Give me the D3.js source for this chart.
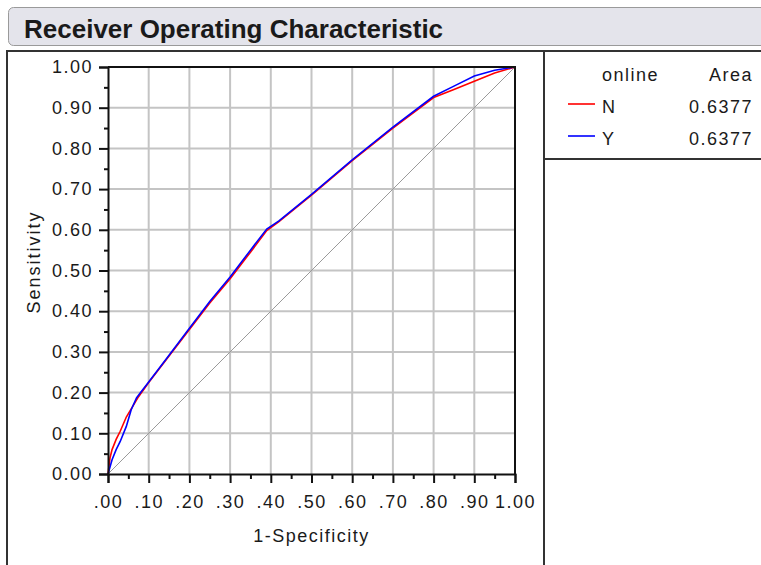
<!DOCTYPE html>
<html>
<head>
<meta charset="utf-8">
<script src="https://cdn.jsdelivr.net/npm/d3@7"></script>
<style>
  body { margin: 0; background: #fff; }
  svg text { font-family: "Liberation Sans", Arial, sans-serif; fill: #1a1a1a; }
</style>
</head>
<body>
<div id="chart"></div>
<script>
// ROC curve points (1-specificity, sensitivity)
const nX = [0, 0.005, 0.01, 0.02, 0.03, 0.045, 0.06, 0.075, 0.1, 0.15, 0.2, 0.25, 0.3, 0.35, 0.39, 0.42, 0.5, 0.6, 0.7, 0.8, 0.85, 0.9, 0.95, 1.0];
const nY = [0, 0.04, 0.06, 0.085, 0.105, 0.14, 0.165, 0.19, 0.225, 0.29, 0.355, 0.42, 0.48, 0.545, 0.598, 0.62, 0.685, 0.77, 0.85, 0.925, 0.945, 0.965, 0.985, 1.0];
const yX = [0, 0.01, 0.02, 0.03, 0.045, 0.057, 0.07, 0.08, 0.1, 0.15, 0.2, 0.25, 0.3, 0.35, 0.39, 0.42, 0.5, 0.6, 0.7, 0.8, 0.85, 0.9, 0.95, 1.0];
const yY = [0, 0.035, 0.06, 0.08, 0.117, 0.158, 0.187, 0.2, 0.226, 0.292, 0.358, 0.424, 0.484, 0.55, 0.602, 0.622, 0.687, 0.772, 0.852, 0.928, 0.953, 0.978, 0.992, 1.0];

const groups = ['N', 'Y'];
const areas = ['0.6377', '0.6377'];
const colors = ['#ff0000', '#0000ff'];
const majorTicks = [0, 0.1, 0.2, 0.3, 0.4, 0.5, 0.6, 0.7, 0.8, 0.9, 1.0];
const minorTicks = [0.05, 0.15, 0.25, 0.35, 0.45, 0.55, 0.65, 0.75, 0.85, 0.95];

const svg = d3.select('#chart').append('svg')
    .attr('width', 761)
    .attr('height', 565);

// title bar
svg.append('rect')
    .attr('x', 8.5).attr('y', 7.5)
    .attr('width', 770).attr('height', 38)
    .attr('rx', 5)
    .attr('fill', '#e4e4eb')
    .attr('stroke', '#9a9a9a');
svg.append('text')
    .attr('x', 24).attr('y', 38)
    .attr('font-size', 26)
    .attr('font-weight', 'bold')
    .attr('fill', '#000')
    .text('Receiver Operating Characteristic');

// outer frame
const frame = svg.append('g').attr('stroke', '#333').attr('stroke-width', 2);
frame.append('line').attr('x1', 7).attr('x2', 761).attr('y1', 51).attr('y2', 51);
frame.append('line').attr('x1', 7).attr('x2', 7).attr('y1', 50).attr('y2', 565);
frame.append('line').attr('x1', 544).attr('x2', 544).attr('y1', 50).attr('y2', 565);
frame.append('line').attr('x1', 544).attr('x2', 761).attr('y1', 159).attr('y2', 159);

const x = d3.scaleLinear().domain([0, 1]).range([108, 515]);
const y = d3.scaleLinear().domain([0, 1]).range([474, 67]);

// grid
const grid = svg.append('g').attr('stroke', '#c4c4c4').attr('stroke-width', 2);
grid.selectAll('.gx').data(majorTicks.slice(1, -1)).enter().append('line')
    .attr('x1', d => x(d)).attr('x2', d => x(d))
    .attr('y1', y(0)).attr('y2', y(1));
grid.selectAll('.gy').data(majorTicks.slice(1, -1)).enter().append('line')
    .attr('x1', x(0)).attr('x2', x(1))
    .attr('y1', d => y(d)).attr('y2', d => y(d));

// reference diagonal
svg.append('line')
    .attr('x1', x(0)).attr('y1', y(0))
    .attr('x2', x(1)).attr('y2', y(1))
    .attr('stroke', '#9a9a9a').attr('stroke-width', 1);

// curves
const line = d3.line().x(d => x(d[0])).y(d => y(d[1]));
const series = [d3.zip(nX, nY), d3.zip(yX, yY)];
series.forEach((s, i) => {
    svg.append('path')
        .datum(s)
        .attr('fill', 'none')
        .attr('stroke', colors[i])
        .attr('stroke-width', 1.6)
        .attr('d', line);
});

// plot border top/right
svg.append('path')
    .attr('d', `M${x(0)},${y(1)}H${x(1)}V${y(0)}`)
    .attr('fill', 'none').attr('stroke', '#111').attr('stroke-width', 2);

// axes
const fmtY = d3.format('.2f');
const fmtX = d => fmtY(d).replace(/^0/, '');

svg.append('g')
    .attr('transform', `translate(${x(0)},0)`)
    .call(d3.axisLeft(y).tickValues(majorTicks).tickFormat(fmtY).tickSize(9).tickPadding(6));
svg.append('g')
    .attr('transform', `translate(${x(0)},0)`)
    .call(d3.axisLeft(y).tickValues(minorTicks).tickFormat('').tickSize(4))
    .select('.domain').remove();

svg.append('g')
    .attr('transform', `translate(0,${y(0)})`)
    .call(d3.axisBottom(x).tickValues(majorTicks).tickFormat(fmtX).tickSize(9).tickPadding(12));
svg.append('g')
    .attr('transform', `translate(0,${y(0)})`)
    .call(d3.axisBottom(x).tickValues(minorTicks).tickFormat('').tickSize(5))
    .select('.domain').remove();

svg.selectAll('.tick line').attr('stroke', '#111').attr('stroke-width', 2);
svg.selectAll('.domain').attr('stroke', '#111').attr('stroke-width', 2);
svg.selectAll('.tick text')
    .attr('font-size', 18)
    .attr('letter-spacing', 1.5)
    .attr('font-family', '"Liberation Sans", Arial, sans-serif')
    .attr('fill', '#1a1a1a');

// axis titles
svg.append('text')
    .attr('x', (x(0) + x(1)) / 2).attr('y', 542)
    .attr('text-anchor', 'middle')
    .attr('font-size', 18).attr('letter-spacing', 1.5)
    .text('1-Specificity');
svg.append('text')
    .attr('transform', 'translate(40,262) rotate(-90)')
    .attr('text-anchor', 'middle')
    .attr('font-size', 18).attr('letter-spacing', 2)
    .text('Sensitivity');

// legend
const legend = svg.append('g').attr('font-size', 18).attr('letter-spacing', 1.5);
legend.append('text').attr('x', 602).attr('y', 81).text('online');
legend.append('text').attr('x', 753).attr('y', 81).attr('text-anchor', 'end').text('Area');
groups.forEach((g, i) => {
    const ty = 113 + i * 32;
    legend.append('line')
        .attr('x1', 568).attr('x2', 595)
        .attr('y1', ty - 9).attr('y2', ty - 9)
        .attr('stroke', colors[i]).attr('stroke-width', 1.6);
    legend.append('text').attr('x', 602).attr('y', ty).text(g);
    legend.append('text').attr('x', 753).attr('y', ty).attr('text-anchor', 'end').text(areas[i]);
});
</script>
</body>
</html>
